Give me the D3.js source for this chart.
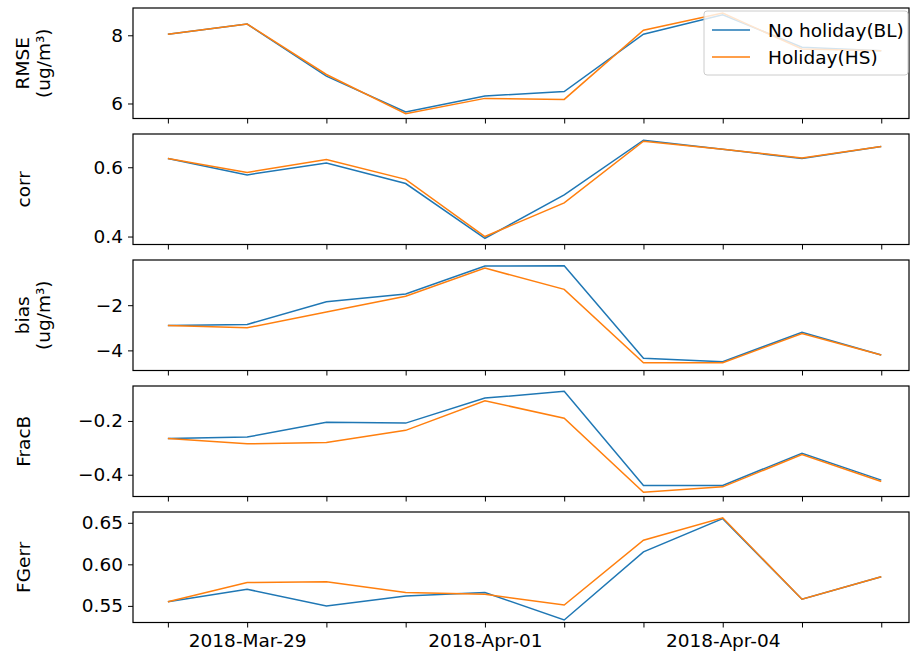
<!DOCTYPE html><html><head><script src="https://cdn.jsdelivr.net/npm/d3@7"></script>
<style>body{margin:0;background:#fff}text{font-family:"DejaVu Sans"}</style></head><body><svg id="c" width="910" height="656"></svg>
<script>
const dates=["2018-Mar-28","2018-Mar-29","2018-Mar-30","2018-Mar-31","2018-Apr-01","2018-Apr-02","2018-Apr-03","2018-Apr-04","2018-Apr-05","2018-Apr-06"];
const tickLabels=["2018-Mar-29","2018-Apr-01","2018-Apr-04"];
const series=["No holiday(BL)","Holiday(HS)"];
const rmseBL=[8.03,8.33,6.8,5.75,6.22,6.35,8.03,8.6,7.65,7.55];
const rmseHS=[8.03,8.33,6.85,5.7,6.15,6.12,8.15,8.65,7.6,7.55];
const corrBL=[0.625,0.578,0.612,0.553,0.395,0.52,0.678,0.652,0.625,0.66];
const corrHS=[0.625,0.585,0.622,0.565,0.4,0.497,0.675,0.652,0.627,0.66];
const biasBL=[-2.9,-2.85,-1.85,-1.5,-0.27,-0.25,-4.35,-4.5,-3.2,-4.2];
const biasHS=[-2.9,-3.0,-2.3,-1.6,-0.36,-1.3,-4.55,-4.55,-3.25,-4.2];
const fracBL=[-0.265,-0.26,-0.205,-0.208,-0.115,-0.09,-0.44,-0.44,-0.32,-0.42];
const fracHS=[-0.265,-0.285,-0.28,-0.235,-0.125,-0.19,-0.465,-0.445,-0.325,-0.425];
const fgBL=[0.555,0.57,0.55,0.562,0.566,0.533,0.615,0.655,0.558,0.585];
const fgHS=[0.555,0.578,0.579,0.566,0.564,0.551,0.629,0.656,0.558,0.585];
const panels=[
 {label:["RMSE","(ug/m³)"],d:[rmseBL,rmseHS],dom:[5.56,8.8],ticks:[6,8],fmt:d3.format("d")},
 {label:["corr"],d:[corrBL,corrHS],dom:[0.377,0.696],ticks:[0.4,0.6],fmt:d3.format(".1f")},
 {label:["bias","(ug/m³)"],d:[biasBL,biasHS],dom:[-4.89,0],ticks:[-4,-2],fmt:d=>d3.format("d")(d).replace("-","−")},
 {label:["FracB"],d:[fracBL,fracHS],dom:[-0.481,-0.07],ticks:[-0.4,-0.2],fmt:d=>d3.format(".1f")(d).replace("-","−")},
 {label:["FGerr"],d:[fgBL,fgHS],dom:[0.530,0.663],ticks:[0.55,0.6,0.65],fmt:d3.format(".2f")}];
const tops=[8,134,260,386,512],H=110.5,L=133,R=909,FS=18.5;
const colors=["#1f77b4","#ff7f0e"];
const svg=d3.select("#c");
const x=d3.scaleLinear().domain([-0.44,9.35]).range([L,R]);
panels.forEach((p,i)=>{
 const y=d3.scaleLinear().domain(p.dom).range([tops[i]+H,tops[i]]);
 const g=svg.append("g");
 const ya=g.append("g").attr("transform",`translate(${L},0)`).call(d3.axisLeft(y).tickValues(p.ticks).tickFormat(p.fmt).tickSize(5).tickPadding(5));
 ya.selectAll("text").attr("font-size",FS).attr("font-family","DejaVu Sans");
 const xa=g.append("g").attr("transform",`translate(0,${tops[i]+H})`).call(d3.axisBottom(x).tickValues(d3.range(10)).tickSize(5).tickPadding(6).tickFormat(k=>i==4&&tickLabels.includes(dates[k])?dates[k]:""));
 xa.selectAll("text").attr("font-size",FS).attr("font-family","DejaVu Sans");
 g.selectAll(".domain").remove();
 p.d.forEach((arr,s)=>g.append("path").datum(arr).attr("fill","none").attr("stroke",colors[s]).attr("stroke-width",1.5)
   .attr("d",d3.line().x((v,k)=>x(k)).y(v=>y(v))));
 g.append("rect").attr("x",L).attr("y",tops[i]).attr("width",R-L).attr("height",H).attr("fill","none").attr("stroke","#000").attr("stroke-width",1.2);
 const cy=tops[i]+H/2;
 const t=g.append("text").attr("transform",`translate(${p.label.length>1?34:24},${cy}) rotate(-90)`).attr("text-anchor","middle").attr("font-size",FS);
 p.label.forEach((l,j)=>t.append("tspan").attr("x",0).attr("dy",j?21:(p.label.length>1?-5:6)).text(l));
});
const lg=svg.append("g").attr("transform","translate(704,11)");
lg.append("rect").attr("width",204).attr("height",64).attr("rx",3).attr("fill","rgba(255,255,255,0.8)").attr("stroke","#ccc");
series.forEach((s,j)=>{lg.append("line").attr("x1",8).attr("x2",46).attr("y1",19+j*27).attr("y2",19+j*27).attr("stroke",colors[j]).attr("stroke-width",1.5);
 lg.append("text").attr("x",64).attr("y",26+j*27).attr("font-size",FS).text(s);});
</script></body></html>
